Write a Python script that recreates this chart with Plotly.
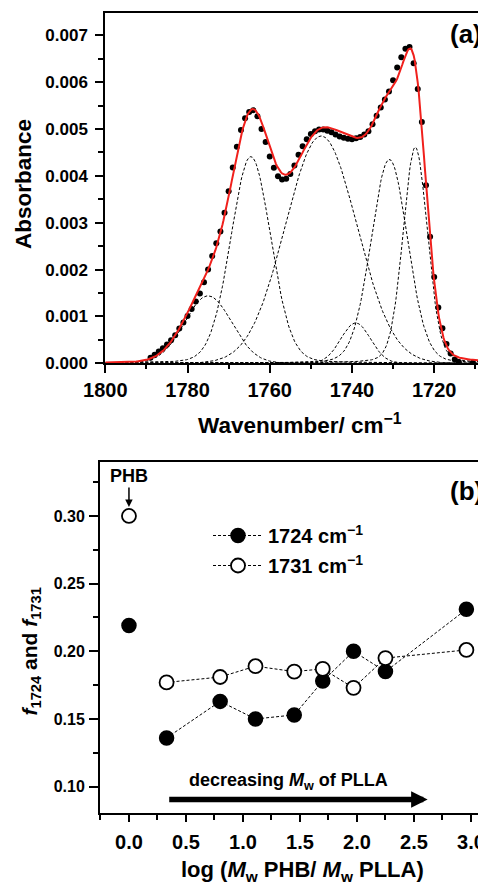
import numpy as np
import plotly.graph_objects as go

# ---------------- Panel (a) data: FTIR carbonyl region ----------------
dot_wavenumber = list(range(1789, 1713, -1)) + [1710.6]
dot_absorbance = [
    0.00012, 0.00018, 0.00025, 0.00032, 0.00040, 0.00049, 0.00060, 0.00074, 0.00087, 0.00101,  # 1789-1780
    0.00116, 0.00132, 0.00149, 0.00173, 0.00200, 0.00229, 0.00256, 0.00281, 0.00321, 0.00367,  # 1779-1770
    0.00418, 0.00462, 0.00498, 0.00523, 0.00536, 0.00540, 0.00527, 0.00500, 0.00472, 0.00441,  # 1769-1760
    0.00417, 0.00399, 0.00392, 0.00394, 0.00404, 0.00422, 0.00445, 0.00463, 0.00478, 0.00489,  # 1759-1750
    0.00495, 0.00499, 0.00499, 0.00496, 0.00493, 0.00488, 0.00484, 0.00481, 0.00479, 0.00478,  # 1749-1740
    0.00480, 0.00483, 0.00488, 0.00495, 0.00510, 0.00528, 0.00546, 0.00563, 0.00580, 0.00604,  # 1739-1730
    0.00631, 0.00653, 0.00671, 0.00675, 0.00640, 0.00585, 0.00515, 0.00380, 0.00270, 0.00184,  # 1729-1720
    0.00119, 0.00075, 0.00041, 0.00021, 0.00008, 0.00003,                                      # 1719-1714
    0.00001,                                                                                   # 1710.6
]

# fitted component bands (centre / peak height / FWHM / Lorentzian fraction)
band_center = [1775.0, 1764.6, 1747.5, 1739.1, 1730.9, 1724.6]
band_height = [0.00144, 0.00441, 0.00485, 0.00086, 0.00435, 0.00461]
band_fwhm = [13.5, 11.5, 20.5, 8.5, 10.5, 7.0]
band_lorentz = [0.0, 0.1, 0.0, 0.0, 0.1, 0.15]

# ---------------- Panel (b) data ----------------
log_ratio = [0.0, 0.33, 0.80, 1.11, 1.45, 1.70, 1.97, 2.25, 2.96]
f_1724 = [0.219, 0.136, 0.163, 0.150, 0.153, 0.178, 0.200, 0.185, 0.231]
f_1731 = [0.300, 0.177, 0.181, 0.189, 0.185, 0.187, 0.173, 0.195, 0.201]
series_names = ["1724 cm<sup>\u22121</sup>", "1731 cm<sup>\u22121</sup>"]

# page is drawn with the browser's default 8px body margin
OFF = 8
W, H = 486 - OFF, 886 - OFF
FONT = "Liberation Sans, Arial, Helvetica, sans-serif"


def fx(p):
    return (p - OFF) / W


def fy(p):
    return 1 - (p - OFF) / H


# band-shape model evaluated on the instrument axis (pseudo-Voigt profile)
wn_grid = np.arange(1800.0, 1707.0, -0.25)


def band(c, h, w, eta):
    g = np.exp(-4 * np.log(2) * ((wn_grid - c) / w) ** 2)
    lo = 1.0 / (1.0 + 4 * ((wn_grid - c) / w) ** 2)
    return h * ((1 - eta) * g + eta * lo)


components = [band(c, h, w, e) for c, h, w, e in zip(band_center, band_height, band_fwhm, band_lorentz)]
fit_total = np.sum(components, axis=0)

fig = go.Figure()

for comp in components:
    fig.add_trace(go.Scatter(x=wn_grid, y=comp, mode="lines", xaxis="x", yaxis="y",
                             line=dict(color="black", width=1, dash="3px,2px"),
                             showlegend=False, hoverinfo="skip"))
fig.add_trace(go.Scatter(x=dot_wavenumber, y=dot_absorbance, mode="markers", xaxis="x", yaxis="y",
                         marker=dict(color="black", size=6), showlegend=False))
fig.add_trace(go.Scatter(x=wn_grid, y=fit_total, mode="lines", xaxis="x", yaxis="y",
                         line=dict(color="#f0201c", width=2), showlegend=False))

# Panel (b)
dash_line = dict(color="black", width=1, dash="3px,2px")
fig.add_trace(go.Scatter(x=log_ratio[1:], y=f_1724[1:], mode="lines+markers", xaxis="x2", yaxis="y2",
                         name=series_names[0], legendgroup="a",
                         line=dash_line,
                         marker=dict(color="black", size=14, line=dict(color="black", width=1.5))))
fig.add_trace(go.Scatter(x=log_ratio[1:], y=f_1731[1:], mode="lines+markers", xaxis="x2", yaxis="y2",
                         name=series_names[1], legendgroup="b",
                         line=dash_line,
                         marker=dict(color="white", size=14, line=dict(color="black", width=1.8))))
fig.add_trace(go.Scatter(x=log_ratio[:1], y=f_1724[:1], mode="markers", xaxis="x2", yaxis="y2",
                         showlegend=False,
                         marker=dict(color="black", size=14, line=dict(color="black", width=1.5))))
fig.add_trace(go.Scatter(x=log_ratio[:1], y=f_1731[:1], mode="markers", xaxis="x2", yaxis="y2",
                         showlegend=False,
                         marker=dict(color="white", size=14, line=dict(color="black", width=1.8))))

axis_common = dict(showline=True, linecolor="black", linewidth=2, showgrid=False, zeroline=False,
                   ticks="outside", tickcolor="black", tickwidth=1.5, automargin=False)

fig.update_layout(
    width=W, height=H,
    margin=dict(l=0, r=0, t=0, b=0, pad=0, autoexpand=False),
    paper_bgcolor="white", plot_bgcolor="white",
    font=dict(family=FONT, color="black"),
    xaxis=dict(domain=[fx(105.3), 1], range=[1800, 1707.4], anchor="y", mirror=True,
               tick0=1800, dtick=20, ticklen=8,
               minor=dict(dtick=10, ticklen=4, ticks="outside", tickcolor="black", tickwidth=1.5),
               tickfont=dict(family=FONT, size=20, weight="bold"), ticklabelstandoff=0,
               **axis_common),
    yaxis=dict(domain=[fy(363.3), fy(12.7)], range=[0, 0.00748], anchor="x",
               tick0=0, dtick=0.001, tickformat=".3f", ticklen=8,
               minor=dict(dtick=0.0005, ticklen=5, ticks="outside", tickcolor="black", tickwidth=1.5),
               tickfont=dict(family=FONT, size=17, weight="bold"), ticklabelstandoff=4,
               **axis_common),
    xaxis2=dict(domain=[fx(100), 1], range=[-0.254, 3.132], anchor="y2", mirror=True,
                tick0=0, dtick=0.5, tickformat=".1f", ticklen=7,
                minor=dict(dtick=0.25, ticklen=5, ticks="outside", tickcolor="black", tickwidth=1.5),
                tickfont=dict(family=FONT, size=20, weight="bold"), ticklabelstandoff=3,
                **axis_common),
    yaxis2=dict(domain=[fy(813.3), fy(461.7)], range=[0.0803, 0.3401], anchor="x2",
                tick0=0.1, dtick=0.05, tickformat=".2f", ticklen=9,
                minor=dict(dtick=0.025, ticklen=5, ticks="outside", tickcolor="black", tickwidth=1.5),
                tickfont=dict(family=FONT, size=16, weight="bold"), ticklabelstandoff=1,
                **axis_common),
    legend=dict(x=fx(208), y=fy(516), xanchor="left", yanchor="top", itemwidth=50,
                bgcolor="rgba(0,0,0,0)", borderwidth=0, tracegroupgap=1,
                font=dict(family=FONT, size=20, weight="bold", color="black")),
)

bold = dict(family=FONT, color="black", weight="bold")
annotations = [
    dict(text="Absorbance", x=fx(23), y=fy(184), textangle=-90, font=dict(size=22.5, **bold)),
    dict(text="Wavenumber/ cm<sup>\u22121</sup>", x=fx(300), y=fy(424), font=dict(size=22.5, **bold)),
    dict(text="(a)", x=fx(466), y=fy(34), font=dict(size=26, **bold)),
    dict(text="(b)", x=fx(466), y=fy(491), font=dict(size=26, **bold)),
    dict(text="<i>f</i><sub>1724</sub> and <i>f</i><sub>1731</sub>", x=fx(30), y=fy(651.5),
         textangle=-90, font=dict(size=21, **bold)),
    dict(text="log (<i>M</i><sub>w</sub> PHB/ <i>M</i><sub>w</sub> PLLA)", x=fx(302), y=fy(871),
         font=dict(size=22, **bold)),
]
for a in annotations:
    fig.add_annotation(xref="paper", yref="paper", showarrow=False, xanchor="center", yanchor="middle", **a)

# PHB label with arrow onto the pure-PHB point
fig.add_annotation(x=log_ratio[0], y=f_1731[0], xref="x2", yref="y2", text="PHB",
                   font=dict(size=18, **bold), showarrow=True, ax=0, ay=-40,
                   arrowhead=2, arrowsize=1, arrowwidth=1.5, arrowcolor="black", standoff=9)

# trend arrow: decreasing Mw of PLLA
trend_from, trend_to, trend_level = 0.34, 2.62, 0.0905
fig.add_annotation(x=trend_to, y=trend_level, ax=trend_from, ay=trend_level,
                   xref="x2", yref="y2", axref="x2", ayref="y2", text="",
                   showarrow=True, arrowhead=2, arrowsize=0.6, arrowwidth=5.5, arrowcolor="black")
fig.add_annotation(x=1.40, y=0.1035, xref="x2", yref="y2", showarrow=False,
                   text="decreasing <i>M</i><sub>w</sub> of PLLA", font=dict(size=18, **bold))

fig.write_html("out.html")
